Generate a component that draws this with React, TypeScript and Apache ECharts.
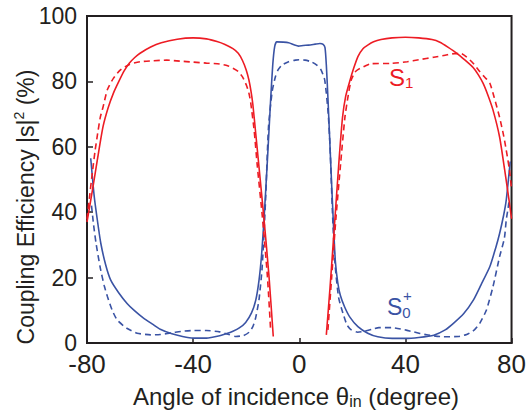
import React, { useEffect, useRef } from "react";
import * as echarts from "echarts";

// Coupling efficiency (%) against angle of incidence (degree), as [angle, value] pairs.
const s1SolidLeft: number[][] = [
  [-80, 37], [-78, 46.5], [-76, 56.5], [-74, 66], [-72, 72], [-70, 76.5], [-68, 80],
  [-66, 83.2], [-64, 85.6], [-62, 87.3], [-60, 88.6], [-56, 90.5], [-52, 91.8],
  [-46, 92.9], [-40, 93.3], [-35, 93], [-31, 92.2], [-28, 91.3], [-25, 90], [-23, 88.6],
  [-21.4, 86.4], [-20, 83.5], [-19, 80.5], [-18.2, 77], [-17.5, 73], [-16.4, 64],
  [-15.2, 54], [-13.3, 38], [-11.4, 20.3], [-9.8, 2],
];
const s1SolidRight: number[][] = [
  [10.2, 2.5], [11.6, 17], [13.4, 37.6], [15, 56], [16.3, 69], [17.5, 75.5], [19, 80],
  [20.5, 84], [22.1, 87.6], [24, 90], [25.8, 91.1], [28, 92.1], [30.8, 92.8], [35, 93.3],
  [40, 93.5], [45, 93.3], [50, 92.8], [53, 92], [56, 90.5], [59.4, 88.6], [62.5, 86.5],
  [65.6, 84.2], [67.5, 82], [69.3, 79.4], [71, 76], [73, 71.3], [75.5, 63], [77.4, 53],
  [79, 44], [80, 38],
];
const s1DashedLeft: number[][] = [
  [-80, 38], [-79, 45], [-78, 52], [-77, 58.5], [-76, 64], [-75, 69], [-74, 72],
  [-72.3, 77.5], [-70, 81], [-67.4, 83.5], [-64, 85.2], [-60, 86], [-55, 86.3],
  [-50, 86.5], [-45, 86.2], [-40, 85.9], [-35, 85.6], [-30, 85.3], [-27, 84.8], [-25, 84],
  [-23, 83], [-21.4, 81.4], [-20, 79], [-19, 76.5], [-18.3, 73.5], [-17, 65],
  [-15.8, 54], [-13.9, 38.5], [-12, 20.3], [-10.8, 4],
];
const s1DashedRight: number[][] = [
  [10.8, 4], [12.2, 20], [13.8, 38], [15.6, 55], [17.2, 69], [18.5, 76], [19.6, 80.5],
  [21, 82.8], [22.1, 83.6], [25, 84.8], [27.1, 85.4], [34.5, 85.5], [40.7, 86], [45, 86.6],
  [50.7, 87.4], [55, 88], [58.5, 88.5], [61, 88.5], [63, 87.5], [65.6, 85.5], [68, 83],
  [70, 81.2], [71.8, 79.5], [73.5, 75], [75.5, 69], [77, 63.5], [78, 59], [79.2, 53],
  [80, 47],
];
const s0Solid: number[][] = [
  [-78.6, 56.5], [-77.3, 45], [-76, 37], [-74.8, 30.5], [-73, 24], [-71.1, 19.3],
  [-68, 15.3], [-64.9, 12.1], [-62, 9.8], [-58.7, 7.6], [-55, 5.6], [-52.4, 4.2],
  [-48, 2.8], [-44, 2], [-40, 1.5], [-35, 1.5], [-30, 2.2], [-27.6, 2.8], [-25, 3.6],
  [-22.6, 4.6], [-20.2, 6.3], [-18, 9.2], [-16.4, 13.1], [-15.2, 19], [-14.2, 27],
  [-13.3, 37.6], [-12, 56], [-10.8, 74.3], [-10, 85], [-9.3, 90.5], [-8.5, 92.1],
  [-6, 92], [-4, 91.8], [-2, 91.2], [-0.3, 90.8], [1.5, 91], [3.5, 91.1], [6, 91.4],
  [7.8, 91.6], [9, 91.3], [9.7, 90.3], [10.2, 85], [10.8, 75], [11.8, 56], [12.8, 37.6],
  [13.6, 25], [14.5, 18.5], [15.5, 14.5], [17.1, 11], [19, 8], [22.1, 5], [25.8, 3],
  [29.6, 1.9], [35, 1.4], [40, 1.4], [45, 1.7], [50.7, 2.4], [55, 4], [58.1, 6], [62, 9],
  [65.6, 13.1], [68.5, 17.8], [71.8, 23.3], [74, 29], [75.5, 33.5], [77, 39], [78, 43.7],
  [79.2, 53], [79.5, 55.5],
];
const s0Dashed: number[][] = [
  [-78.3, 42], [-77.5, 36], [-76.5, 30], [-75, 23], [-73.5, 17.5], [-72.3, 14.2],
  [-70.5, 10], [-68.6, 7], [-65, 4.5], [-61.1, 3], [-56, 2.5], [-52.4, 2.6], [-48, 3.1],
  [-44, 3.6], [-40, 3.8], [-35, 3.8], [-30, 3.4], [-26.5, 2.6], [-23.9, 2], [-21, 2.3],
  [-18.9, 3.3], [-17.5, 5], [-16.5, 7.5], [-15.2, 13.1], [-14, 23], [-12.7, 43.7],
  [-11.6, 66], [-10.2, 77], [-9, 81.4], [-8, 83.5], [-6.5, 85], [-4, 86], [-1.5, 86.5],
  [0, 86.6], [2.2, 86.5], [4.5, 86], [6.6, 85], [8.2, 83.5], [9.6, 80.4], [10.9, 70.2],
  [11.6, 60], [12.5, 40], [13.4, 25], [14.8, 14], [16.5, 9], [18, 5.5], [19.6, 4],
  [22, 3.3], [24.6, 3.6], [28, 4.3], [30, 4.7], [35, 4.7], [38.2, 4.3], [43, 3.4],
  [48, 2.5], [54.4, 1.9], [60, 2], [63.1, 2.6], [66, 4], [68, 6], [70.5, 10], [73, 17.2],
  [75.5, 26.4], [77.3, 32], [78, 37.6], [78.6, 40.7], [79, 43],
];

const xTicks = { min: -80, max: 80, interval: 40 };
const yTicks = { min: 0, max: 100, interval: 20 };

const RED = "#ed1c24";
const BLUE = "#3a53a4";
const INK = "#231f20";
const FONT = "'Liberation Sans', Arial, sans-serif";

function line(data: number[][], color: string, dashed: boolean) {
  return {
    type: "line",
    data,
    showSymbol: false,
    smooth: 0.2,
    lineStyle: { color, width: 1.6, type: dashed ? [6, 4] : "solid" },
    silent: true,
  };
}

export default function App() {
  const ref = useRef<HTMLDivElement>(null);

  useEffect(() => {
    if (!ref.current) return;
    const chart = echarts.init(ref.current, null, { renderer: "svg" });
    chart.setOption({
      animation: false,
      backgroundColor: "#fff",
      textStyle: { fontFamily: FONT },
      grid: {
        left: 87,
        right: 14,
        top: 16,
        bottom: 72,
        show: true,
        borderColor: INK,
        borderWidth: 2,
      },
      xAxis: {
        type: "value",
        ...xTicks,
        axisLine: { show: true, onZero: false, lineStyle: { color: INK, width: 2 } },
        axisTick: { show: true, inside: true, length: 5, lineStyle: { color: INK, width: 1.5 } },
        axisLabel: { color: INK, fontSize: 26, lineHeight: 20, margin: 11, fontFamily: FONT },
        splitLine: { show: false },
      },
      yAxis: {
        type: "value",
        ...yTicks,
        axisLine: { show: true, onZero: false, lineStyle: { color: INK, width: 2 } },
        axisTick: { show: true, inside: true, length: 6, lineStyle: { color: INK, width: 1.5 } },
        axisLabel: {
          color: INK,
          fontSize: 23,
          lineHeight: 18,
          padding: [4, 0, 0, 0],
          margin: 10,
          fontFamily: FONT,
        },
        splitLine: { show: false },
      },
      series: [
        line(s0Dashed, BLUE, true),
        line(s0Solid, BLUE, false),
        line(s1DashedLeft, RED, true),
        line(s1DashedRight, RED, true),
        line(s1SolidLeft, RED, false),
        line(s1SolidRight, RED, false),
      ],
      graphic: [
        {
          type: "text",
          x: 296,
          y: 396,
          silent: true,
          style: {
            text: "{a|Angle of incidence θ}{sub|in}{a| (degree)}",
            align: "center",
            verticalAlign: "middle",
            fill: INK,
            rich: {
              a: { fontSize: 24, lineHeight: 26, fill: INK, fontFamily: FONT },
              sub: { fontSize: 16, lineHeight: 10, verticalAlign: "bottom", fill: INK, fontFamily: FONT },
            },
          },
        },
        {
          type: "text",
          x: 26,
          y: 207,
          rotation: Math.PI / 2,
          silent: true,
          style: {
            text: "{a|Coupling Efficiency |s|}{sup|2}{a| (%)}",
            align: "center",
            verticalAlign: "middle",
            fill: INK,
            rich: {
              a: { fontSize: 23, lineHeight: 28, fill: INK, fontFamily: FONT },
              sup: { fontSize: 14, lineHeight: 10, verticalAlign: "top", fill: INK, fontFamily: FONT },
            },
          },
        },
        {
          type: "text",
          x: 389,
          y: 77,
          silent: true,
          style: {
            text: "{a|S}{sub|1}",
            align: "left",
            verticalAlign: "middle",
            fill: RED,
            rich: {
              a: { fontSize: 24, lineHeight: 26, fill: RED, fontFamily: FONT },
              sub: { fontSize: 15, lineHeight: 16, verticalAlign: "bottom", fill: RED, fontFamily: FONT },
            },
          },
        },
        {
          type: "text",
          x: 387,
          y: 307,
          silent: true,
          style: {
            text: "{a|S}{sub|0}",
            align: "left",
            verticalAlign: "middle",
            fill: BLUE,
            rich: {
              a: { fontSize: 23, lineHeight: 26, fill: BLUE, fontFamily: FONT },
              sub: { fontSize: 15, lineHeight: 15, verticalAlign: "bottom", fill: BLUE, fontFamily: FONT },
            },
          },
        },
        {
          type: "text",
          x: 403,
          y: 295.5,
          silent: true,
          style: {
            text: "+",
            align: "left",
            verticalAlign: "middle",
            fill: BLUE,
            fontSize: 15,
            lineHeight: 8,
            fontFamily: FONT,
          },
        },
      ],
    });
    return () => chart.dispose();
  }, []);

  return <div ref={ref} style={{ width: 529, height: 415, position: "absolute", left: 0, top: 0 }} />;
}
